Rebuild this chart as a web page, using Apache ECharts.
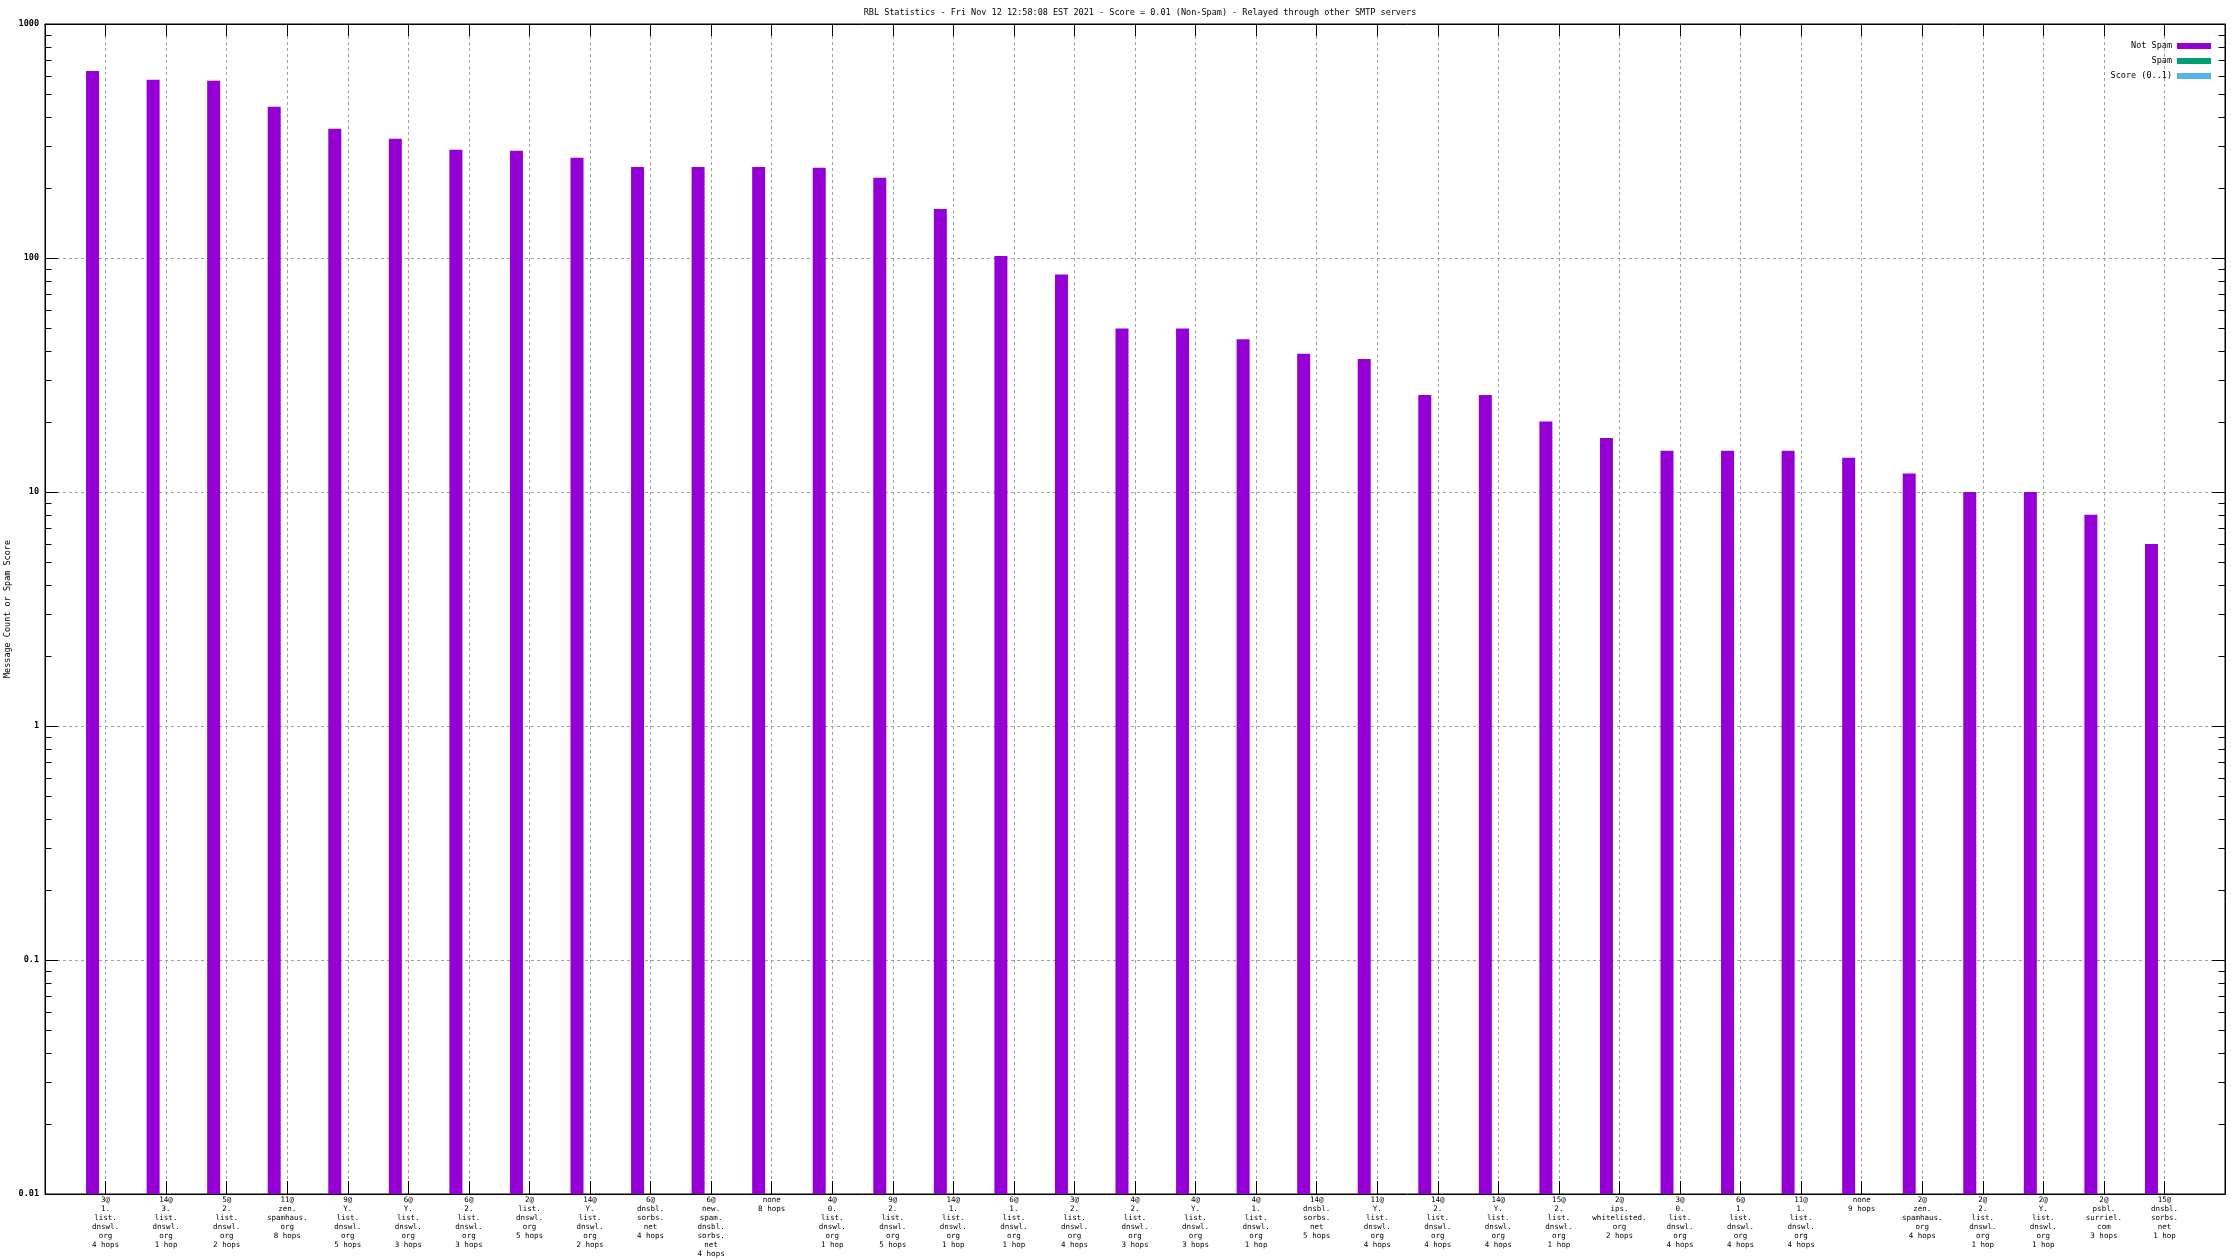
<!DOCTYPE html>
<html>
<head>
<meta charset="utf-8">
<script src="https://cdn.jsdelivr.net/npm/echarts@6/dist/echarts.min.js"></script>
<style>html,body{margin:0;padding:0;background:#fff}#c{width:2240px;height:1260px}</style>
</head>
<body>
<div id="c"></div>
<script>
const titleText = 'RBL Statistics - Fri Nov 12 12:58:08 EST 2021 - Score = 0.01 (Non-Spam) - Relayed through other SMTP servers';
const yAxisName = 'Message Count or Spam Score';
const seriesNames = ['Not Spam', 'Spam', 'Score (0..1)'];
const categories = [
  '3@\n1.\nlist.\ndnswl.\norg\n4 hops',
  '14@\n3.\nlist.\ndnswl.\norg\n1 hop',
  '5@\n2.\nlist.\ndnswl.\norg\n2 hops',
  '11@\nzen.\nspamhaus.\norg\n8 hops',
  '9@\nY.\nlist.\ndnswl.\norg\n5 hops',
  '6@\nY.\nlist.\ndnswl.\norg\n3 hops',
  '6@\n2.\nlist.\ndnswl.\norg\n3 hops',
  '2@\nlist.\ndnswl.\norg\n5 hops',
  '14@\nY.\nlist.\ndnswl.\norg\n2 hops',
  '6@\ndnsbl.\nsorbs.\nnet\n4 hops',
  '6@\nnew.\nspam.\ndnsbl.\nsorbs.\nnet\n4 hops',
  'none\n8 hops',
  '4@\n0.\nlist.\ndnswl.\norg\n1 hop',
  '9@\n2.\nlist.\ndnswl.\norg\n5 hops',
  '14@\n1.\nlist.\ndnswl.\norg\n1 hop',
  '6@\n1.\nlist.\ndnswl.\norg\n1 hop',
  '3@\n2.\nlist.\ndnswl.\norg\n4 hops',
  '4@\n2.\nlist.\ndnswl.\norg\n3 hops',
  '4@\nY.\nlist.\ndnswl.\norg\n3 hops',
  '4@\n1.\nlist.\ndnswl.\norg\n1 hop',
  '14@\ndnsbl.\nsorbs.\nnet\n5 hops',
  '11@\nY.\nlist.\ndnswl.\norg\n4 hops',
  '14@\n2.\nlist.\ndnswl.\norg\n4 hops',
  '14@\nY.\nlist.\ndnswl.\norg\n4 hops',
  '15@\n2.\nlist.\ndnswl.\norg\n1 hop',
  '2@\nips.\nwhitelisted.\norg\n2 hops',
  '3@\n0.\nlist.\ndnswl.\norg\n4 hops',
  '6@\n1.\nlist.\ndnswl.\norg\n4 hops',
  '11@\n1.\nlist.\ndnswl.\norg\n4 hops',
  'none\n9 hops',
  '2@\nzen.\nspamhaus.\norg\n4 hops',
  '2@\n2.\nlist.\ndnswl.\norg\n1 hop',
  '2@\nY.\nlist.\ndnswl.\norg\n1 hop',
  '2@\npsbl.\nsurriel.\ncom\n3 hops',
  '15@\ndnsbl.\nsorbs.\nnet\n1 hop'
];
const notSpamCounts = [630, 578, 572, 443, 357, 323, 290, 287, 268, 245, 245, 245, 243, 220, 162, 102, 85, 50, 50, 45, 39, 37, 26, 26, 20, 17, 15, 15, 15, 14, 12, 10, 10, 8, 6];
// Spam and Score are not visible on the log scale (zero / below range)
const spamCounts = categories.map(() => null);
const scoreValues = categories.map(() => null);
const yTickLabels = { '0.01': '0.01', '0.1': '0.1', '1': '1', '10': '10', '100': '100', '1000': '1000' };
const yMinorTicks = [0.02,0.03,0.04,0.05,0.06,0.07,0.08,0.09,0.2,0.3,0.4,0.5,0.6,0.7,0.8,0.9,2,3,4,5,6,7,8,9,20,30,40,50,60,70,80,90,200,300,400,500,600,700,800,900];
const colors = ['#9400d3', '#009e73', '#56b4e9'];

// padded categories: one empty slot at each end (plot range 0..36)
const xCats = [''].concat(categories, ['']);
const pad = arr => [null].concat(arr, [null]);
const lastIdx = xCats.length - 1;

const FONT = 'DejaVu Sans Mono';
const chart = echarts.init(document.getElementById('c'), null, { renderer: 'canvas' });

const gridLine = { show: true, lineStyle: { color: '#a0a0a0', type: [3, 3], width: 1 } };
const inner = (i) => i > 0 && i < lastIdx;

chart.setOption({
  animation: false,
  backgroundColor: '#ffffff',
  color: colors,
  title: {
    text: titleText, left: 1135, top: 3, textAlign: 'center',
    textStyle: { fontFamily: FONT, fontSize: 8.5, fontWeight: 'normal', color: '#000' }
  },
  legend: {
    orient: 'vertical', right: 24, top: 36, align: 'right',
    itemWidth: 34, itemHeight: 6, itemGap: 5, icon: 'rect',
    textStyle: { fontFamily: FONT, fontSize: 8.5, color: '#000', lineHeight: 10, padding: [0, 0, 0, 0] },
    data: seriesNames
  },
  grid: {
    left: 45, right: 15, top: 24, bottom: 66,
    show: true, borderColor: '#000', borderWidth: 1, containLabel: false,
    outerBoundsMode: 'none'
  },
  xAxis: [{
    type: 'category', data: xCats, boundaryGap: false, position: 'bottom',
    axisLine: { show: true, lineStyle: { color: '#000' } },
    axisTick: { show: true, inside: true, length: 13, interval: inner, lineStyle: { color: '#000' } },
    splitLine: Object.assign({ interval: inner }, gridLine),
    axisLabel: { interval: 0, margin: 2, fontFamily: FONT, fontSize: 7.5, lineHeight: 9, color: '#000' }
  }, {
    type: 'category', data: xCats, boundaryGap: false, position: 'top',
    axisLine: { show: true, lineStyle: { color: '#000' } },
    axisTick: { show: true, inside: true, length: 12, interval: inner, lineStyle: { color: '#000' } },
    splitLine: { show: false },
    axisLabel: { show: false }
  }],
  yAxis: [{
    type: 'log', logBase: 10, min: 0.01, max: 1000, startValue: 0.01, position: 'left',
    name: yAxisName, nameLocation: 'middle', nameRotate: 90, nameGap: 33, nameMoveOverlap: false,
    nameTextStyle: { fontFamily: FONT, fontSize: 8.5, color: '#000' },
    axisLine: { show: true, lineStyle: { color: '#000' } },
    axisTick: { show: true, inside: true, length: 13, lineStyle: { color: '#000' } },
    splitLine: gridLine,
    axisLabel: {
      margin: 6, fontFamily: FONT, fontSize: 8.5, fontWeight: 'bold', color: '#000',
      formatter: v => { const k = String(+Number(v).toPrecision(6)); return yTickLabels[k] !== undefined ? yTickLabels[k] : ''; }
    }
  }, {
    type: 'log', logBase: 10, min: 0.01, max: 1000, position: 'right',
    axisLine: { show: true, lineStyle: { color: '#000' } },
    axisTick: { show: true, inside: true, length: 13, lineStyle: { color: '#000' } },
    splitLine: { show: false },
    axisLabel: { show: false }
  }],
  series: [{
    name: seriesNames[0], type: 'bar', data: pad(notSpamCounts),
    barWidth: 13, barGap: '0%', itemStyle: { color: colors[0] }
  }, {
    name: seriesNames[1], type: 'bar', data: pad(spamCounts),
    barWidth: 13, barGap: '0%', itemStyle: { color: colors[1] }
  }, {
    name: seriesNames[2], type: 'bar', data: pad(scoreValues),
    barWidth: 13, barGap: '0%', itemStyle: { color: colors[2] }
  }, {
    type: 'custom', silent: true, z: 5,
    data: yMinorTicks.map(v => [0, v]),
    renderItem: (params, api) => {
      const v = api.value(1);
      const pL = api.coord([0, v]);
      const pR = api.coord([lastIdx, v]);
      const y = Math.round(pL[1]) + 0.5;
      return { type: 'group', children: [
        { type: 'line', shape: { x1: pL[0], y1: y, x2: pL[0] + 6.5, y2: y }, style: { stroke: '#000', lineWidth: 1 } },
        { type: 'line', shape: { x1: pR[0], y1: y, x2: pR[0] - 6.5, y2: y }, style: { stroke: '#000', lineWidth: 1 } }
      ] };
    }
  }]
});
</script>
</body>
</html>
